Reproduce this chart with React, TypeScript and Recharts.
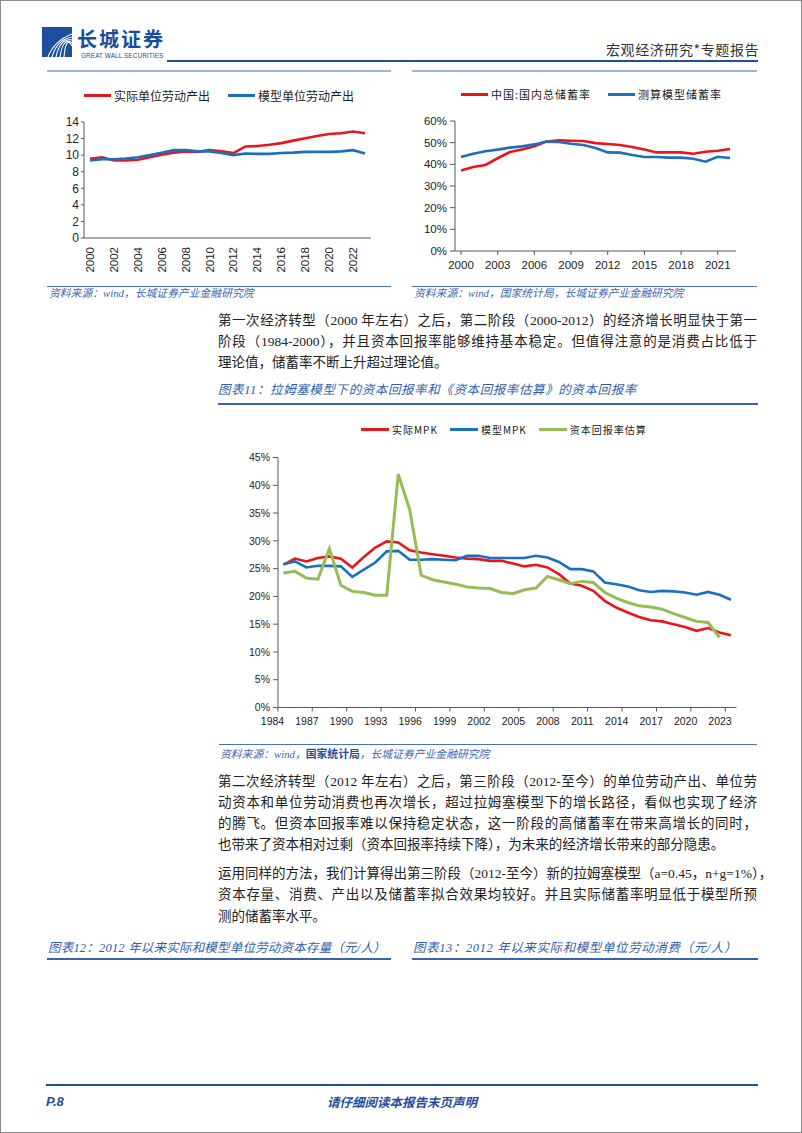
import React from "react";
import { LineChart, Line, XAxis, YAxis, Legend } from "recharts";

const RED = "#e8161c";
const BLUE = "#1a6fbf";
const GREEN = "#97bb55";
const AXIS = "#595959";
const TEXT = "#222";
const NAVY = "#1f4e9c";
const CAPTION = "#2f5ea8";

const CJK = '"Noto Sans CJK SC", "Noto Sans", sans-serif';
const BODY = '"Liberation Serif", "Noto Sans CJK SC", serif';
const TICK = '"Liberation Sans", "Noto Sans CJK SC", sans-serif';

// 实际 / 模型单位劳动产出
const years1 = ["2000", "2001", "2002", "2003", "2004", "2005", "2006", "2007", "2008", "2009", "2010", "2011",
  "2012", "2013", "2014", "2015", "2016", "2017", "2018", "2019", "2020", "2021", "2022", "2023"];
const actualOutput = [9.57, 9.75, 9.35, 9.35, 9.45, 9.75, 10.05, 10.3, 10.45, 10.4, 10.6, 10.45,
  10.25, 11.05, 11.1, 11.25, 11.45, 11.75, 12.05, 12.3, 12.55, 12.65, 12.85, 12.65];
const modelOutput = [9.35, 9.5, 9.5, 9.6, 9.75, 10.0, 10.3, 10.6, 10.6, 10.45, 10.45, 10.25,
  10.0, 10.2, 10.15, 10.15, 10.25, 10.3, 10.4, 10.4, 10.4, 10.45, 10.6, 10.2];
const outputTicks = [0, 2, 4, 6, 8, 10, 12, 14];

// 国内总储蓄率 vs 测算模型储蓄率 (%)
const years2 = ["2000", "2001", "2002", "2003", "2004", "2005", "2006", "2007", "2008", "2009", "2010", "2011",
  "2012", "2013", "2014", "2015", "2016", "2017", "2018", "2019", "2020", "2021", "2022"];
const actualSaving = [37.2, 38.8, 39.7, 42.8, 45.7, 46.8, 48.3, 50.5, 51.1, 50.9, 50.8, 49.8,
  49.4, 48.9, 48.0, 46.8, 45.5, 45.5, 45.5, 44.9, 45.8, 46.3, 47.1];
const modelSaving = [43.4, 44.9, 46.0, 46.8, 47.7, 48.3, 49.2, 50.5, 50.3, 49.5, 48.9, 47.5,
  45.5, 45.4, 44.3, 43.4, 43.4, 43.1, 43.1, 42.6, 41.2, 43.5, 42.9];
const savingTicks = [0, 10, 20, 30, 40, 50, 60];

// 图表11：资本回报率 (%)
const years3 = ["1984", "1985", "1986", "1987", "1988", "1989", "1990", "1991", "1992", "1993",
  "1994", "1995", "1996", "1997", "1998", "1999", "2000", "2001", "2002", "2003",
  "2004", "2005", "2006", "2007", "2008", "2009", "2010", "2011", "2012", "2013",
  "2014", "2015", "2016", "2017", "2018", "2019", "2020", "2021", "2022", "2023"];
const actualMPK = [25.7, 26.8, 26.3, 26.9, 27.2, 26.8, 25.2, 27.1, 28.8, 29.9,
  29.7, 28.3, 27.9, 27.6, 27.3, 27.0, 26.8, 26.7, 26.4, 26.4,
  25.9, 25.4, 25.7, 25.2, 24.0, 22.3, 21.9, 21.0, 19.2, 18.0,
  17.1, 16.3, 15.7, 15.5, 15.0, 14.5, 13.8, 14.3, 13.5, 13.0];
const modelMPK = [25.8, 26.3, 25.2, 25.5, 25.5, 25.4, 23.5, 24.8, 26.1, 28.1,
  28.2, 26.6, 26.6, 26.7, 26.6, 26.5, 27.3, 27.3, 26.9, 26.9,
  26.9, 26.9, 27.3, 27.0, 26.2, 24.9, 24.9, 24.5, 22.5, 22.2,
  21.8, 21.1, 20.8, 21.0, 20.9, 20.7, 20.3, 20.8, 20.3, 19.4];
const estimatedReturn = [24.2, 24.5, 23.3, 23.1, 28.6, 22.0, 20.9, 20.7, 20.2, 20.2,
  42.0, 35.6, 23.8, 23.0, 22.6, 22.2, 21.7, 21.5, 21.4, 20.7,
  20.5, 21.2, 21.5, 23.6, 23.0, 22.3, 22.7, 22.5, 20.7, 19.7,
  18.9, 18.3, 18.1, 17.7, 16.9, 16.2, 15.5, 15.3, 12.6];
const mpkTicks = [0, 5, 10, 15, 20, 25, 30, 35, 40, 45];

const outputRows = years1.map((year, i) => ({ year, actual: actualOutput[i], model: modelOutput[i] }));
const savingRows = years2.map((year, i) => ({ year, actual: actualSaving[i], model: modelSaving[i] }));
const mpkRows = years3.map((year, i) => ({
  year,
  actual: actualMPK[i],
  model: modelMPK[i],
  estimate: estimatedReturn[i],
}));

const pct = (v: number) => `${v}%`;

type RowOpts = { left: number; gap: number; fontSize: number; spacing: number; swatch: number };

function legendContent(o: RowOpts) {
  return (props: any) => (
    <div
      style={{
        display: "flex",
        alignItems: "center",
        paddingLeft: o.left,
        height: 16,
        fontFamily: CJK,
        fontSize: o.fontSize,
        letterSpacing: o.spacing,
        color: TEXT,
        whiteSpace: "nowrap",
      }}
    >
      {(props.payload || []).map((p: any) => (
        <span key={p.value} style={{ display: "flex", alignItems: "center", marginRight: o.gap }}>
          <span style={{ display: "inline-block", width: o.swatch, height: 3, background: p.color, marginRight: 3 }} />
          {p.value}
        </span>
      ))}
    </div>
  );
}

function rotatedTick(props: any) {
  const { x, y, payload } = props;
  return (
    <text
      x={x}
      y={y}
      transform={`rotate(-90 ${x} ${y})`}
      dx={-9}
      dy={4}
      textAnchor="end"
      fontSize={11.5}
      fontFamily={TICK}
      fill={TEXT}
    >
      {payload.value}
    </text>
  );
}

function flatTick(fontSize: number, labelDy: number, tickLen: number, tickDx: number, labelDx: number) {
  return (props: any) => {
    const { x, y, payload } = props;
    return (
      <g>
        <line x1={x + tickDx} x2={x + tickDx} y1={y} y2={y + tickLen} stroke={AXIS} />
        <text
          x={x + labelDx}
          y={y + labelDy}
          textAnchor="middle"
          dominantBaseline="central"
          fontSize={fontSize}
          fontFamily={TICK}
          fill={TEXT}
        >
          {payload.value}
        </text>
      </g>
    );
  };
}

function OutputChart() {
  return (
    <LineChart width={340} height={197} data={outputRows} margin={{ top: 41, right: 10, bottom: 0, left: 0 }}>
      <Legend
        layout="horizontal"
        verticalAlign="middle"
        align="center"
        wrapperStyle={{ top: 6, left: 0 }}
        content={legendContent({ left: 43, gap: 18, fontSize: 12, spacing: 0, swatch: 27 })}
      />
      <XAxis
        dataKey="year"
        interval={1}
        height={40}
        padding={{ left: 6, right: 6 }}
        axisLine={{ stroke: AXIS }}
        tickLine={false}
        tickSize={0}
        tickMargin={0}
        tick={rotatedTick}
      />
      <YAxis
        domain={[0, 14]}
        ticks={outputTicks}
        interval={0}
        width={43}
        axisLine={{ stroke: AXIS }}
        tickLine={{ stroke: AXIS }}
        tickSize={3}
        tickMargin={2}
        tick={{ fontSize: 12, fontFamily: TICK, fill: TEXT }}
      />
      <Line dataKey="actual" name="实际单位劳动产出" stroke={RED} strokeWidth={2.6} dot={false} isAnimationActive={false} />
      <Line dataKey="model" name="模型单位劳动产出" stroke={BLUE} strokeWidth={2.6} dot={false} isAnimationActive={false} />
    </LineChart>
  );
}

function SavingChart() {
  return (
    <LineChart width={340} height={195} data={savingRows} margin={{ top: 40, right: 10, bottom: 0, left: 0 }}>
      <Legend
        layout="horizontal"
        verticalAlign="middle"
        align="center"
        wrapperStyle={{ top: 5, left: 0 }}
        content={legendContent({ left: 55, gap: 17, fontSize: 11, spacing: 1, swatch: 27 })}
      />
      <XAxis
        dataKey="year"
        interval={2}
        height={25}
        padding={{ left: 6, right: 6 }}
        axisLine={{ stroke: AXIS }}
        tickLine={false}
        tickSize={0}
        tickMargin={0}
        tick={flatTick(11.5, 13.5, 4, 0, 0)}
      />
      <YAxis
        domain={[0, 60]}
        ticks={savingTicks}
        interval={0}
        tickFormatter={pct}
        width={49}
        axisLine={{ stroke: AXIS }}
        tickLine={{ stroke: AXIS }}
        tickSize={5}
        tickMargin={3}
        tick={{ fontSize: 11.5, fontFamily: TICK, fill: TEXT }}
      />
      <Line dataKey="actual" name="中国:国内总储蓄率" stroke={RED} strokeWidth={2.6} dot={false} isAnimationActive={false} />
      <Line dataKey="model" name="测算模型储蓄率" stroke={BLUE} strokeWidth={2.6} dot={false} isAnimationActive={false} />
    </LineChart>
  );
}

function MpkChart() {
  return (
    <LineChart width={540} height={317} data={mpkRows} margin={{ top: 41.5, right: 19.5, bottom: 0.5, left: 0 }}>
      <Legend
        layout="horizontal"
        verticalAlign="middle"
        align="center"
        wrapperStyle={{ top: 5, left: 0 }}
        content={legendContent({ left: 145, gap: 12, fontSize: 10, spacing: 1, swatch: 28 })}
      />
      <XAxis
        dataKey="year"
        interval={2}
        height={25}
        padding={{ left: 5.5, right: 5.5 }}
        axisLine={{ stroke: AXIS }}
        tickLine={false}
        tickSize={0}
        tickMargin={0}
        tick={flatTick(10.5, 13.5, 4, -5.7, -11)}
      />
      <YAxis
        domain={[0, 45]}
        ticks={mpkTicks}
        interval={0}
        tickFormatter={pct}
        width={62}
        axisLine={{ stroke: AXIS }}
        tickLine={{ stroke: AXIS }}
        tickSize={5}
        tickMargin={3}
        tick={{ fontSize: 10.5, fontFamily: TICK, fill: TEXT }}
      />
      <Line dataKey="actual" name="实际MPK" stroke={RED} strokeWidth={2.6} dot={false} isAnimationActive={false} />
      <Line dataKey="model" name="模型MPK" stroke={BLUE} strokeWidth={2.6} dot={false} isAnimationActive={false} />
      <Line dataKey="estimate" name="资本回报率估算" stroke={GREEN} strokeWidth={3} dot={false} isAnimationActive={false} />
    </LineChart>
  );
}

const abs = (left: number, top: number, extra: React.CSSProperties = {}): React.CSSProperties => ({
  position: "absolute",
  left,
  top,
  ...extra,
});

const para1 = [
  "第一次经济转型（2000 年左右）之后，第二阶段（2000-2012）的经济增长明显快于第一",
  "阶段（1984-2000），并且资本回报率能够维持基本稳定。但值得注意的是消费占比低于",
  "理论值，储蓄率不断上升超过理论值。",
];
const para2 = [
  "第二次经济转型（2012 年左右）之后，第三阶段（2012-至今）的单位劳动产出、单位劳",
  "动资本和单位劳动消费也再次增长，超过拉姆塞模型下的增长路径，看似也实现了经济",
  "的腾飞。但资本回报率难以保持稳定状态，这一阶段的高储蓄率在带来高增长的同时，",
  "也带来了资本相对过剩（资本回报率持续下降），为未来的经济增长带来的部分隐患。",
];
const para3 = [
  "运用同样的方法，我们计算得出第三阶段（2012-至今）新的拉姆塞模型（a=0.45，n+g=1%），",
  "资本存量、消费、产出以及储蓄率拟合效果均较好。并且实际储蓄率明显低于模型所预",
  "测的储蓄率水平。",
];

function Paragraph({ lines, top, lineHeight }: { lines: string[]; top: number; lineHeight: number }) {
  return (
    <div style={abs(217, top, { width: 539, fontFamily: BODY, fontSize: 13.5, color: TEXT })}>
      {lines.map((l, i) => (
        <div
          key={i}
          style={{
            height: lineHeight,
            lineHeight: `${lineHeight}px`,
            whiteSpace: "nowrap",
            textAlign: "justify",
            textAlignLast: i < lines.length - 1 ? "justify" : "left",
          }}
        >
          {l}
        </div>
      ))}
    </div>
  );
}

function Rule({ left, top, width, h, color }: { left: number; top: number; width: number; h: number; color: string }) {
  return <div style={abs(left, top, { width, height: h, background: color })} />;
}

const sourceStyle: React.CSSProperties = {
  fontFamily: BODY,
  fontStyle: "italic",
  fontSize: 10.8,
  color: "#3a66b4",
  lineHeight: "16px",
  whiteSpace: "nowrap",
};

const captionStyle: React.CSSProperties = {
  fontFamily: BODY,
  fontStyle: "italic",
  fontSize: 12.5,
  color: CAPTION,
  lineHeight: "16px",
  letterSpacing: 0.6,
  whiteSpace: "nowrap",
};

export default function App() {
  return (
    <div
      style={{
        position: "absolute",
        left: 0,
        top: 0,
        width: 802,
        height: 1133,
        boxSizing: "border-box",
        border: "1px solid #8a8a8a",
        background: "#fff",
        overflow: "hidden",
      }}
    >
      {/* header */}
      <svg width={30} height={30} style={abs(41, 26)}>
        <rect width={30} height={30} fill="#1d4f9f" />
        {[0, 1, 2, 3, 4].map((k) => (
          <path
            key={k}
            d={`M${6 + k * 4} 30 Q ${12 + k * 3} ${14 - k * 1.5} 30 ${7 + k * 3}`}
            stroke="#fff"
            strokeWidth={1.1}
            fill="none"
          />
        ))}
      </svg>
      <div style={abs(76, 27, { fontFamily: CJK, fontWeight: 700, fontSize: 20, letterSpacing: 2, color: "#1b4c9c", lineHeight: "22px" })}>
        长城证券
      </div>
      <div style={abs(80, 51, { fontFamily: TICK, fontSize: 6.4, color: "#1b4c9c", lineHeight: "7px", letterSpacing: 0.1 })}>
        GREAT WALL SECURITIES
      </div>
      <div style={abs(605, 39, { fontFamily: CJK, fontSize: 14, color: "#333", lineHeight: "18px", letterSpacing: 0.6 })}>
        宏观经济研究*专题报告
      </div>
      <Rule left={166} top={59} width={591} h={2} color={NAVY} />
      <Rule left={46} top={69} width={344} h={1.5} color="#9fb3d6" />
      <Rule left={411} top={69} width={345} h={1.5} color="#9fb3d6" />

      {/* top charts */}
      <div style={abs(40, 80)}>
        <OutputChart />
      </div>
      <div style={abs(405, 80)}>
        <SavingChart />
      </div>
      <Rule left={46} top={284.5} width={344} h={1} color="#4a72b8" />
      <Rule left={411} top={284.5} width={345} h={1} color="#4a72b8" />
      <div style={abs(48, 284, sourceStyle)}>资料来源：wind，长城证券产业金融研究院</div>
      <div style={abs(413, 284, sourceStyle)}>资料来源：wind，国家统计局，长城证券产业金融研究院</div>

      <Paragraph lines={para1} top={309} lineHeight={21} />

      <div style={abs(217, 381, captionStyle)}>图表11：拉姆塞模型下的资本回报率和《资本回报率估算》的资本回报率</div>
      <Rule left={217} top={402} width={540} h={2} color="#3a63ad" />

      <div style={abs(215, 415)}>
        <MpkChart />
      </div>
      <Rule left={218} top={742.5} width={538} h={1} color="#4a72b8" />
      <div style={abs(219, 743.5, sourceStyle)}>
        资料来源：wind，
        <span style={{ fontFamily: CJK, fontStyle: "normal", fontWeight: 700, color: NAVY }}>国家统计局</span>
        ，长城证券产业金融研究院
      </div>

      <Paragraph lines={para2} top={769.5} lineHeight={21} />
      <Paragraph lines={para3} top={861.5} lineHeight={21.5} />

      <div style={abs(47, 939, { ...captionStyle, letterSpacing: 0.2 })}>图表12：2012 年以来实际和模型单位劳动资本存量（元/人）</div>
      <div style={abs(412, 939, captionStyle)}>图表13：2012 年以来实际和模型单位劳动消费（元/人）</div>
      <Rule left={46} top={956.5} width={344} h={2} color="#3a63ad" />
      <Rule left={411} top={956.5} width={346} h={2} color="#3a63ad" />

      {/* footer */}
      <Rule left={45} top={1083} width={712} h={2} color={NAVY} />
      <div style={abs(45, 1093, { fontFamily: TICK, fontStyle: "italic", fontWeight: 700, fontSize: 13, color: NAVY, lineHeight: "16px" })}>
        P.8
      </div>
      <div style={abs(0, 1093, { width: 802, textAlign: "center", fontFamily: CJK, fontStyle: "italic", fontWeight: 700, fontSize: 12.5, color: NAVY, lineHeight: "16px" })}>
        请仔细阅读本报告末页声明
      </div>
    </div>
  );
}
